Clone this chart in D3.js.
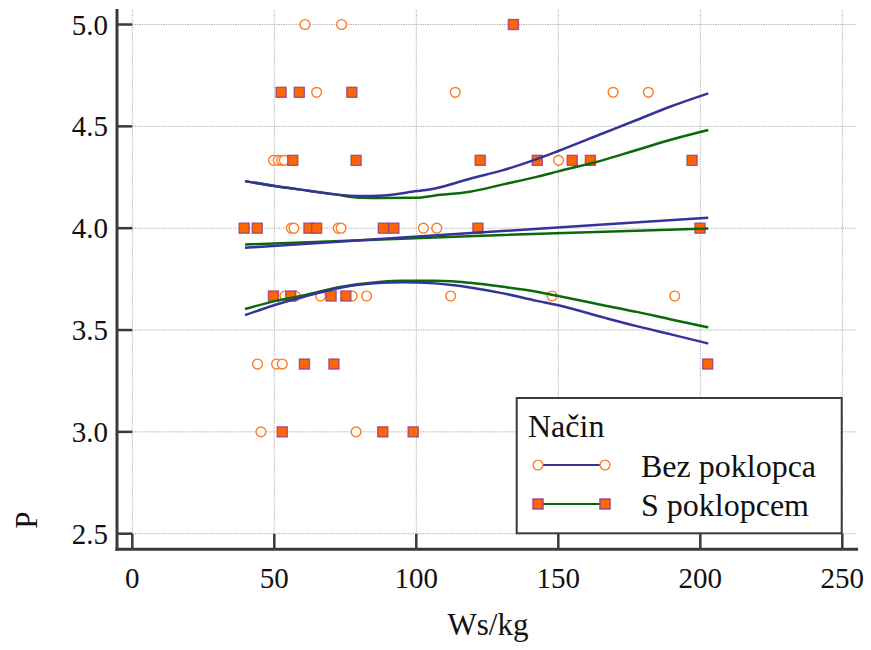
<!DOCTYPE html>
<html>
<head>
<meta charset="utf-8">
<script src="https://cdn.jsdelivr.net/npm/d3@7"></script>
<style>
    body { margin: 0; background: #fff; }
    svg { display: block; }
</style>
</head>
<body>
<svg id="chart" width="871" height="650"></svg>
<script>
"use strict";

// ---- data ----
var xTicks = [0, 50, 100, 150, 200, 250];
var yTicks = [2.5, 3.0, 3.5, 4.0, 4.5, 5.0];

var seriesNames = ["Bez poklopca", "S poklopcem"];

// Bez poklopca - open circles  [Ws/kg, P]
var bezPoints = [
    [60.8, 5.0], [73.7, 5.0],
    [64.9, 4.667], [113.7, 4.667], [169.3, 4.667], [181.7, 4.667],
    [49.7, 4.333], [51.4, 4.333], [52.6, 4.333], [53.5, 4.333], [150.1, 4.333],
    [56.0, 4.0], [56.9, 4.0], [72.5, 4.0], [73.5, 4.0], [102.5, 4.0], [107.2, 4.0],
    [53.8, 3.667], [57.3, 3.667], [66.3, 3.667], [77.4, 3.667], [82.5, 3.667],
    [112.1, 3.667], [147.8, 3.667], [191.0, 3.667],
    [44.1, 3.333], [50.8, 3.333], [52.8, 3.333],
    [45.3, 3.0], [78.8, 3.0]
];

// S poklopcem - filled squares
var sPoints = [
    [134.2, 5.0],
    [52.4, 4.667], [58.8, 4.667], [77.3, 4.667],
    [56.5, 4.333], [78.8, 4.333], [122.5, 4.333], [142.6, 4.333],
    [154.9, 4.333], [161.3, 4.333], [197.1, 4.333],
    [39.4, 4.0], [44.0, 4.0], [62.2, 4.0], [64.9, 4.0], [88.4, 4.0],
    [92.1, 4.0], [121.7, 4.0], [199.9, 4.0],
    [49.7, 3.667], [55.8, 3.667], [70.0, 3.667], [75.2, 3.667],
    [60.6, 3.333], [71.0, 3.333], [202.6, 3.333],
    [52.8, 3.0], [88.2, 3.0], [98.9, 3.0]
];

// fitted lines and confidence bands
var bezFit = [[39.7, 3.904], [120.7, 3.977], [202.8, 4.051]];
var bezUpper = [
    [39.7, 4.231], [50.2, 4.207], [62.0, 4.184], [71.4, 4.166], [80.8, 4.158],
    [86.6, 4.159], [100.1, 4.182], [106.6, 4.195], [118.9, 4.243], [130.6, 4.285],
    [142.4, 4.339], [150.0, 4.379], [165.8, 4.466], [177.6, 4.531], [189.3, 4.596],
    [202.8, 4.662]
];
var bezLower = [
    [39.7, 3.573], [50.2, 3.623], [59.6, 3.660], [73.7, 3.709], [87.8, 3.732],
    [94.9, 3.735], [106.6, 3.729], [112.5, 3.721], [118.9, 3.709], [130.6, 3.680],
    [142.4, 3.643], [150.0, 3.622], [165.8, 3.562], [177.6, 3.519], [189.3, 3.480],
    [202.8, 3.434]
];
var sFit = [[39.7, 3.920], [120.7, 3.962], [202.8, 3.999]];
var sUpper = [
    [39.7, 4.231], [50.2, 4.207], [62.0, 4.184], [71.4, 4.166], [80.8, 4.149],
    [86.6, 4.148], [100.1, 4.149], [106.6, 4.161], [118.9, 4.179], [130.6, 4.215],
    [142.4, 4.252], [150.0, 4.279], [165.8, 4.334], [177.6, 4.384], [189.3, 4.433],
    [202.8, 4.482]
];
var sLower = [
    [39.7, 3.603], [50.2, 3.642], [59.6, 3.668], [73.7, 3.712], [87.8, 3.737],
    [94.9, 3.742], [106.6, 3.742], [112.5, 3.740], [118.9, 3.732], [130.6, 3.712],
    [142.4, 3.688], [150.0, 3.667], [165.8, 3.622], [177.6, 3.589], [189.3, 3.553],
    [202.8, 3.513]
];

var blue = "#343399",
    green = "#0a6a0a",
    orange = "#ff6600",
    circleOrange = "#ff7a22",
    purple = "#9a3f8e";

var serif = "'Liberation Serif', 'Times New Roman', Times, Tinos, 'DejaVu Serif', serif";

var svg = d3.select("svg#chart")
    .attr("font-family", serif);

// plot box (grid area) and axes offset a little outside it
var plotLeft = 132.3, plotRight = 857, plotTop = 10, plotBottom = 533.7;
var axisX = 117, axisY = 549.3;

var x = d3.scaleLinear().domain([0, 250]).range([132.3, 842.3]);
var y = d3.scaleLinear().domain([2.5, 5.0]).range([533.7, 24.5]);

// grid
var grid = svg.append("g").attr("class", "grid")
    .attr("stroke", "#a8a8a8")
    .attr("stroke-width", 1)
    .attr("stroke-dasharray", "1.2,1.2");

grid.selectAll("line.gx").data(xTicks).enter().append("line")
    .attr("class", "gx")
    .attr("x1", (d) => x(d)).attr("x2", (d) => x(d))
    .attr("y1", plotTop).attr("y2", plotBottom);

grid.selectAll("line.gy").data(yTicks).enter().append("line")
    .attr("class", "gy")
    .attr("x1", plotLeft).attr("x2", plotRight)
    .attr("y1", (d) => y(d)).attr("y2", (d) => y(d));

// axes: ticks span the gap between the axis line and the plot box
var axes = svg.append("g").attr("class", "axes")
    .attr("stroke", "#3a3a3a");

axes.selectAll("line.tx").data(xTicks).enter().append("line")
    .attr("class", "tx")
    .attr("stroke-width", 2.5)
    .attr("x1", (d) => x(d)).attr("x2", (d) => x(d))
    .attr("y1", plotBottom).attr("y2", axisY);

axes.selectAll("line.ty").data(yTicks).enter().append("line")
    .attr("class", "ty")
    .attr("stroke-width", 2.5)
    .attr("x1", axisX).attr("x2", plotLeft)
    .attr("y1", (d) => y(d)).attr("y2", (d) => y(d));

axes.append("line")
    .attr("stroke-width", 3)
    .attr("x1", axisX).attr("x2", axisX)
    .attr("y1", 9).attr("y2", axisY + 1.5);

axes.append("line")
    .attr("stroke-width", 3)
    .attr("x1", axisX - 1.5).attr("x2", 858)
    .attr("y1", axisY).attr("y2", axisY);

// tick labels
svg.append("g").selectAll("text").data(xTicks).enter().append("text")
    .attr("x", (d) => x(d))
    .attr("y", 588)
    .attr("text-anchor", "middle")
    .attr("font-size", 29)
    .attr("fill", "#111")
    .text((d) => d);

svg.append("g").selectAll("text").data(yTicks).enter().append("text")
    .attr("x", 108)
    .attr("y", (d) => y(d) + 10)
    .attr("text-anchor", "end")
    .attr("font-size", 29)
    .attr("fill", "#111")
    .text((d) => d.toFixed(1));

// axis titles
svg.append("text")
    .attr("x", 488).attr("y", 635)
    .attr("text-anchor", "middle")
    .attr("font-size", 31)
    .attr("fill", "#111")
    .text("Ws/kg");

svg.append("text")
    .attr("transform", "translate(37,520) rotate(-90)")
    .attr("text-anchor", "middle")
    .attr("font-size", 31)
    .attr("fill", "#111")
    .text("P");

// markers
function drawCircles(g, pts) {
    g.selectAll("circle").data(pts).enter().append("circle")
        .attr("cx", (d) => x(d[0]))
        .attr("cy", (d) => y(d[1]))
        .attr("r", 4.9)
        .attr("fill", "#fff")
        .attr("stroke", circleOrange)
        .attr("stroke-width", 1.4);
}

function drawSquares(g, pts) {
    g.selectAll("rect").data(pts).enter().append("rect")
        .attr("x", (d) => x(d[0]) - 5)
        .attr("y", (d) => y(d[1]) - 5)
        .attr("width", 10)
        .attr("height", 10)
        .attr("fill", orange)
        .attr("stroke", purple)
        .attr("stroke-opacity", 0.85)
        .attr("stroke-width", 1.4);
}

drawCircles(svg.append("g").attr("class", "bez"), bezPoints);
drawSquares(svg.append("g").attr("class", "spok"), sPoints);

// fitted lines on top of the markers
var line = d3.line()
    .x((d) => x(d[0]))
    .y((d) => y(d[1]))
    .curve(d3.curveMonotoneX);

var curves = [
    { data: sUpper, color: green }, { data: sLower, color: green }, { data: sFit, color: green },
    { data: bezUpper, color: blue }, { data: bezLower, color: blue }, { data: bezFit, color: blue }
];

svg.append("g").attr("class", "fits").selectAll("path").data(curves).enter().append("path")
    .attr("d", (d) => line(d.data))
    .attr("fill", "none")
    .attr("stroke", (d) => d.color)
    .attr("stroke-width", 2.5);

// legend
var legend = svg.append("g").attr("class", "legend");

legend.append("rect")
    .attr("x", 516.7).attr("y", 398)
    .attr("width", 325).attr("height", 135.3)
    .attr("fill", "#fff")
    .attr("stroke", "#3a3a3a")
    .attr("stroke-width", 2);

legend.append("text")
    .attr("x", 528).attr("y", 437)
    .attr("font-size", 32)
    .attr("fill", "#111")
    .text("Način");

var rows = legend.selectAll("g.row").data(seriesNames).enter().append("g")
    .attr("class", "row")
    .attr("transform", (d, i) => "translate(0," + (465 + i * 39) + ")");

rows.append("line")
    .attr("x1", 538).attr("x2", 605)
    .attr("stroke", (d, i) => i === 0 ? blue : green)
    .attr("stroke-width", 2);

rows.append("text")
    .attr("x", 641).attr("y", 11.5)
    .attr("font-size", 32)
    .attr("fill", "#111")
    .text((d) => d);

rows.filter((d, i) => i === 0).selectAll("circle").data([538, 605]).enter().append("circle")
    .attr("cx", (d) => d).attr("cy", 0).attr("r", 4.9)
    .attr("fill", "#fff").attr("stroke", circleOrange).attr("stroke-width", 1.4);

rows.filter((d, i) => i === 1).selectAll("rect").data([538, 605]).enter().append("rect")
    .attr("x", (d) => d - 5).attr("y", -5).attr("width", 10).attr("height", 10)
    .attr("fill", orange).attr("stroke", purple).attr("stroke-width", 1.4);
</script>
</body>
</html>
